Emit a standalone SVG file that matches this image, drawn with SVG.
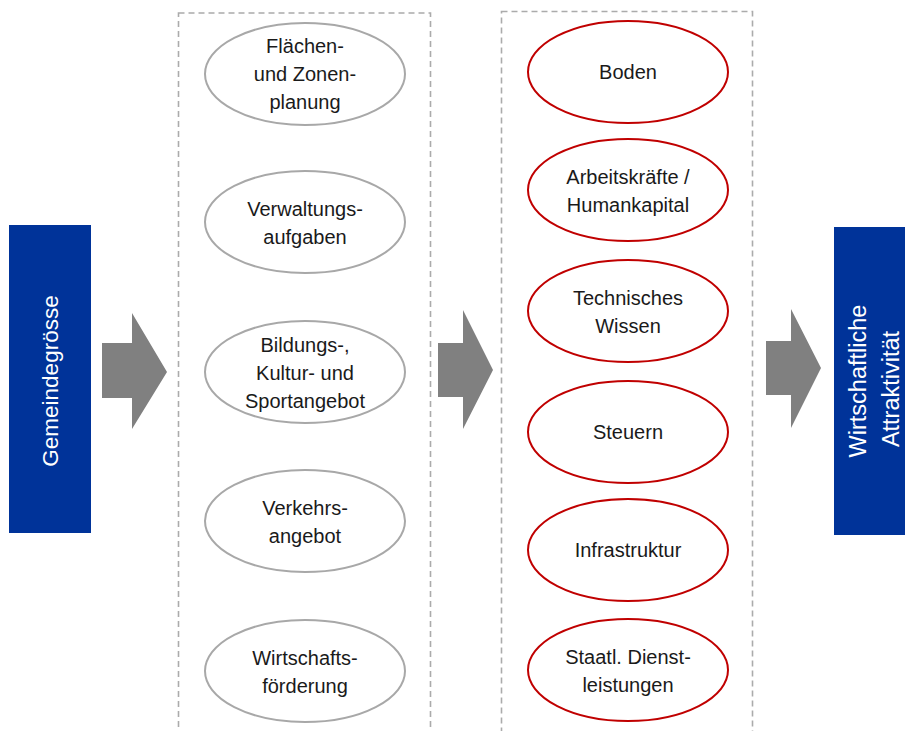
<svg xmlns="http://www.w3.org/2000/svg" width="905" height="731" viewBox="0 0 905 731">
<style>
.frame{fill:none;stroke:#ababab;stroke-width:1.6;stroke-dasharray:6 4}
.g{fill:#fff;stroke:#a8a8a8;stroke-width:2}
.r{fill:#fff;stroke:#c00000;stroke-width:2}
.t{font-family:"Liberation Sans",Arial,sans-serif;font-size:20px;fill:#1a1a1a;text-anchor:middle}
.w{font-family:"Liberation Sans",Arial,sans-serif;font-size:22.5px;fill:#fff;text-anchor:middle}
.w2{font-family:"Liberation Sans",Arial,sans-serif;font-size:23.5px;fill:#fff;text-anchor:middle}
.blue{fill:#003399}
.arr{fill:#808080}
</style>
<rect width="905" height="731" fill="#fff"/>
<g id="frames">
<rect class="frame" x="178.5" y="13" width="252" height="740"/>
<rect class="frame" x="501.5" y="11.5" width="251" height="740"/>
</g>
<g id="gemeindegroesse">
<rect class="blue" x="9" y="225" width="82" height="308"/>
<text class="w" transform="translate(58,381) rotate(-90)">Gemeindegrösse</text>
</g>
<g id="attraktivitaet">
<rect class="blue" x="834" y="227" width="71" height="308"/>
<text class="w2" transform="translate(866,381) rotate(-90)">Wirtschaftliche</text>
<text class="w2" transform="translate(899,389) rotate(-90)">Attraktivität</text>
</g>
<g id="connectors">
<polygon class="arr" points="102,343 132,343 132,313 167,372 132,429 132,398 102,398"/>
<polygon class="arr" points="438,343 463,343 463,310 493,370 463,429 463,397 438,397"/>
<polygon class="arr" points="766,341 791,341 791,309 821,368 791,428 791,395 766,395"/>
</g>
<g id="flaechen">
<ellipse class="g" cx="305" cy="74" rx="100" ry="51"/>
<text class="t" x="305" y="53">Flächen-</text>
<text class="t" x="305" y="81">und Zonen-</text>
<text class="t" x="305" y="109">planung</text>
</g>
<g id="verwaltung">
<ellipse class="g" cx="305" cy="222" rx="100" ry="51"/>
<text class="t" x="305" y="216">Verwaltungs-</text>
<text class="t" x="305" y="244">aufgaben</text>
</g>
<g id="bildung">
<ellipse class="g" cx="305" cy="372" rx="100" ry="51"/>
<text class="t" x="305" y="352">Bildungs-,</text>
<text class="t" x="305" y="380">Kultur- und</text>
<text class="t" x="305" y="408">Sportangebot</text>
</g>
<g id="verkehr">
<ellipse class="g" cx="305" cy="521" rx="100" ry="51"/>
<text class="t" x="305" y="515">Verkehrs-</text>
<text class="t" x="305" y="543">angebot</text>
</g>
<g id="wirtschaftsfoerderung">
<ellipse class="g" cx="305" cy="671" rx="100" ry="51"/>
<text class="t" x="305" y="665">Wirtschafts-</text>
<text class="t" x="305" y="693">förderung</text>
</g>
<g id="boden">
<ellipse class="r" cx="628" cy="72" rx="100" ry="51"/>
<text class="t" x="628" y="79">Boden</text>
</g>
<g id="arbeitskraefte">
<ellipse class="r" cx="628" cy="190" rx="100" ry="51"/>
<text class="t" x="628" y="184">Arbeitskräfte /</text>
<text class="t" x="628" y="212">Humankapital</text>
</g>
<g id="wissen">
<ellipse class="r" cx="628" cy="311" rx="100" ry="51"/>
<text class="t" x="628" y="305">Technisches</text>
<text class="t" x="628" y="333">Wissen</text>
</g>
<g id="steuern">
<ellipse class="r" cx="628" cy="432" rx="100" ry="51"/>
<text class="t" x="628" y="439">Steuern</text>
</g>
<g id="infrastruktur">
<ellipse class="r" cx="628" cy="550" rx="100" ry="51"/>
<text class="t" x="628" y="557">Infrastruktur</text>
</g>
<g id="dienstleistungen">
<ellipse class="r" cx="628" cy="670" rx="100" ry="51"/>
<text class="t" x="628" y="664">Staatl. Dienst-</text>
<text class="t" x="628" y="692">leistungen</text>
</g>
</svg>
